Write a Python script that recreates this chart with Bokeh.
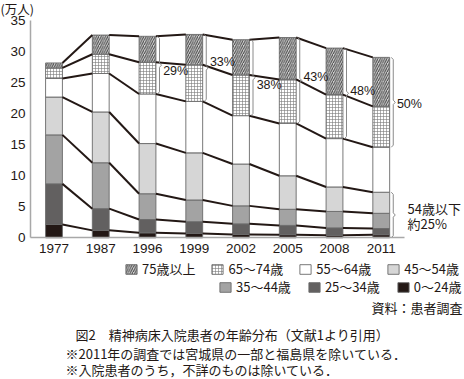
from bokeh.plotting import figure
from bokeh.models import (Range1d, ColumnDataSource, Legend, LegendItem,
                          Label, FixedTicker)
from bokeh.core.properties import value
from bokeh.embed import file_html
from bokeh.resources import INLINE

# ---------------- data (万人) ----------------
years = ["1977", "1987", "1996", "1999", "2002", "2005", "2008", "2011"]
age_0_24 = [2.15, 1.2, 0.8, 0.7, 0.55, 0.5, 0.4, 0.5]
age_25_34 = [6.55, 3.5, 2.15, 1.9, 1.7, 1.5, 1.2, 1.0]
age_35_44 = [7.9, 7.4, 4.15, 3.5, 2.9, 2.6, 2.65, 2.45]
age_45_54 = [6.1, 8.2, 8.1, 7.6, 6.75, 5.4, 3.95, 3.4]
age_55_64 = [3.0, 6.2, 8.0, 8.3, 7.8, 8.45, 7.8, 7.25]
age_65_74 = [1.7, 3.1, 5.1, 5.9, 6.55, 7.1, 7.1, 6.6]
age_75_over = [0.8, 3.1, 4.2, 4.9, 5.7, 6.75, 7.5, 7.9]

series_labels = ["0～24歳", "25～34歳", "35～44歳", "45～54歳", "55～64歳", "65～74歳", "75歳以上"]
pct_years = ["1996", "1999", "2002", "2005", "2008", "2011"]
pct_labels = ["29%", "33%", "38%", "43%", "48%", "50%"]
y_ticks = [0, 5, 10, 15, 20, 25, 30, 35]

series = [age_0_24, age_25_34, age_35_44, age_45_54, age_55_64, age_65_74, age_75_over]
xs = list(range(len(years)))

cum = []
run = [0.0] * len(years)
for s in series:
    run = [a + b for a, b in zip(run, s)]
    cum.append(run)

INK = "#231815"
styles = [
    dict(fill_color="#231815"),
    dict(fill_color="#626060"),
    dict(fill_color="#a3a3a3"),
    dict(fill_color="#d6d6d6"),
    dict(fill_color="#ffffff"),
    dict(fill_color="#ffffff", hatch_pattern="+", hatch_color="#7a7a7a", hatch_scale=3.0, hatch_weight=0.6),
    dict(fill_color="#d2d2d2", hatch_pattern="/", hatch_color="#444444", hatch_scale=4.5, hatch_weight=1.0),
]

# canvas = frame; px = 53.5 + 46.75*x ; py = 237.3 - 6.2*v
W_PX, H_PX = 464, 379
p = figure(width=W_PX, height=H_PX, output_backend="svg", toolbar_location=None,
           x_range=Range1d(-53.5 / 46.75, (W_PX - 53.5) / 46.75),
           y_range=Range1d(-(H_PX - 237.3) / 6.2, 237.3 / 6.2),
           min_border=0, min_border_left=0, min_border_right=0,
           min_border_top=0, min_border_bottom=0)
p.outline_line_color = None
p.grid.grid_line_color = None
p.background_fill_color = "white"

W = 0.36
renderers = []
bottom = [0.0] * len(years)
for s, top, st in zip(series, cum, styles):
    src = ColumnDataSource(dict(x=xs, bottom=bottom, top=top))
    r = p.vbar(x="x", bottom="bottom", top="top", width=W, source=src,
               line_color="#6a6a6a", line_width=0.9, **st)
    renderers.append(r)
    bottom = top

# connecting lines between adjacent bars
x0s, x1s, y0s, y1s = [], [], [], []
for level in cum:
    for i in range(len(years) - 1):
        x0s.append(xs[i] + W / 2); x1s.append(xs[i + 1] - W / 2)
        y0s.append(level[i]); y1s.append(level[i + 1])
p.segment(x0=x0s, y0=y0s, x1=x1s, y1=y1s, line_color=INK, line_width=2)

# braces
idx = [years.index(y) for y in pct_years]
b_x = [xs[i] for i in idx] + [xs[-1]]
b_top = [cum[6][i] for i in idx] + [cum[3][-1]]
b_bot = [cum[4][i] for i in idx] + [0.0]
b_mid = [(a + b) / 2 for a, b in zip(b_top, b_bot)]
XB, XH, XN, E = W / 2 + 0.077, W / 2 + 0.035, W / 2 + 0.12, 0.35
bxs, bys = [], []
for x, t, b, m in zip(b_x, b_top, b_bot, b_mid):
    bxs.append([x + XH, x + XB, x + XB, x + XN, x + XB, x + XB, x + XH])
    bys.append([t, t - E, m + E, m, m - E, b + E, b])
p.multi_line(xs=bxs, ys=bys, line_color="#8a8a8a", line_width=1)

# percentage labels, nudged (px) off the connecting lines as in the original
label_dy = [6, -6, 7, -3, -2, 1.5]
p.text(x=[x + XN + 0.035 for x in b_x[:-1]], y=b_mid[:-1], text=pct_labels,
       y_offset=label_dy, text_baseline="middle", text_align="left",
       text_font=value("Liberation Sans"), text_font_size="12.5px", text_color=INK)

# axes drawn inside the canvas
p.xaxis.fixed_location = 0
p.yaxis.fixed_location = -0.5
p.xaxis.bounds = (-0.5, len(years) - 0.5)
p.yaxis.bounds = (y_ticks[0], y_ticks[-1])
p.xaxis.ticker = FixedTicker(ticks=xs)
p.xaxis.major_label_overrides = {x: y for x, y in zip(xs, years)}
p.yaxis.ticker = FixedTicker(ticks=y_ticks)
for ax in (p.xaxis[0], p.yaxis[0]):
    ax.axis_line_color = "#a8a8a8"
    ax.axis_line_width = 1.5
    ax.major_tick_line_color = None
    ax.minor_tick_line_color = None
    ax.major_tick_out = 0
    ax.major_tick_in = 0
    ax.minor_tick_out = 0
    ax.major_label_text_font = "Liberation Sans"
    ax.major_label_text_font_size = "13.5px"
    ax.major_label_text_color = INK
p.yaxis.major_label_standoff = 5
p.xaxis.major_label_standoff = 6

JP = "Noto Sans CJK JP"

def lab(text, X, Y, size="13px", align="left", baseline="middle", font=JP):
    p.add_layout(Label(x=X, y=H_PX - Y, x_units="screen", y_units="screen", text=text,
                       text_font=font, text_font_size=size, text_color=INK,
                       text_align=align, text_baseline=baseline))

lab("(万人)", 0, 8, size="12.5px")
lab("54歳以下", 407, 208)
lab("約25%", 407, 223)

def make_legend(ids, X, Y, spacing):
    return Legend(items=[LegendItem(label=series_labels[i], renderers=[renderers[i]]) for i in ids],
                  orientation="horizontal", location=(X, H_PX - Y), spacing=spacing,
                  background_fill_alpha=0, border_line_alpha=0, padding=0, margin=0,
                  label_standoff=4, glyph_width=14, glyph_height=12, label_height=12,
                  label_text_font=JP, label_text_font_size="13px", label_text_color=INK)

p.add_layout(make_legend([6, 5, 4, 3], 124, 278, 15))
p.add_layout(make_legend([2, 1, 0], 218, 296, 16))

lab("資料：患者調査", 462, 307, align="right")
lab("図2　精神病床入院患者の年齢分布（文献1より引用）", 75, 334)
lab("※2011年の調査では宮城県の一部と福島県を除いている．", 65, 353)
lab("※入院患者のうち，不詳のものは除いている．", 65, 369)

open("out.html", "w").write(file_html(p, INLINE))
